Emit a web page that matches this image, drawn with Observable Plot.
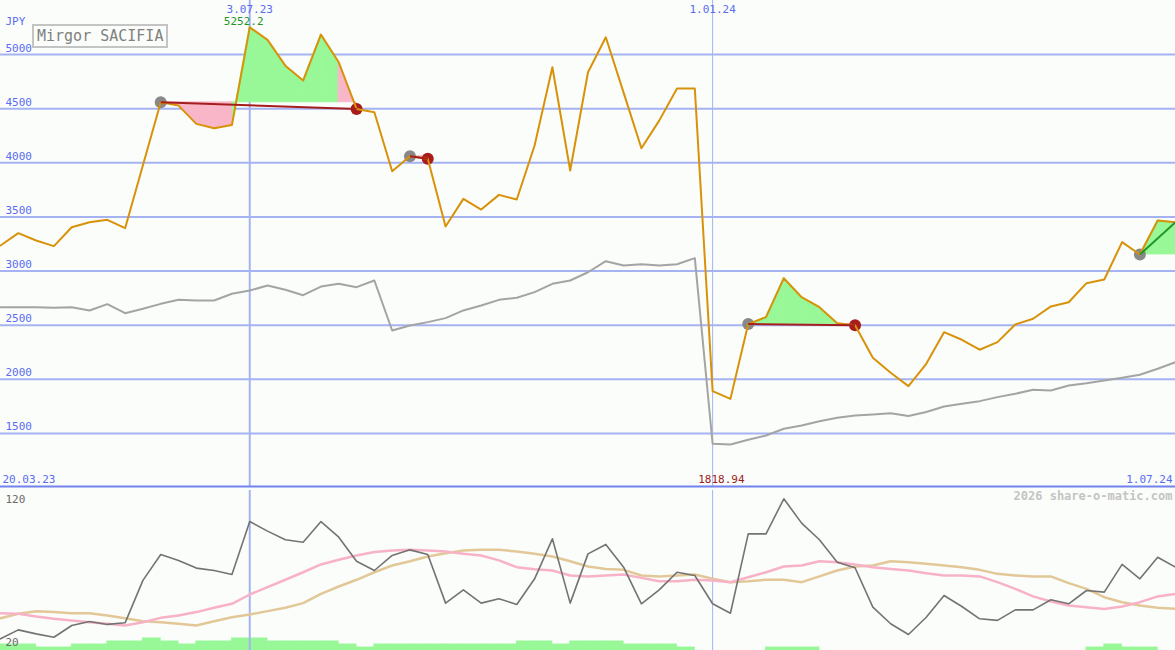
<!DOCTYPE html>
<html><head><meta charset="utf-8">
<script src="https://cdn.jsdelivr.net/npm/d3@7"></script>
<script src="https://cdn.jsdelivr.net/npm/@observablehq/plot@0.6"></script>
<style>
html,body{margin:0;padding:0;background:#fbfdfa;}
#wrap{position:relative;width:1175px;height:650px;overflow:hidden;background:#fbfdfa;}
#wrap svg{position:absolute;left:0;overflow:visible;}
#title{position:absolute;left:32px;top:24px;width:129px;height:20px;border:2px solid #c4c4c4;color:#808080;font:15px "DejaVu Sans Mono",monospace;line-height:20px;padding-left:3px;background:#fbfdfa;white-space:nowrap;}
</style></head><body>
<div id="wrap"><div id="title">Mirgor SACIFIA</div></div>
<script>
// ---- data ----
const weekDates = ["2023-03-27","2023-04-03","2023-04-10","2023-04-17","2023-04-24","2023-05-01","2023-05-08","2023-05-15","2023-05-22","2023-05-29",
"2023-06-05","2023-06-12","2023-06-19","2023-06-26","2023-07-03","2023-07-10","2023-07-17","2023-07-24","2023-07-31","2023-08-07",
"2023-08-14","2023-08-21","2023-08-28","2023-09-04","2023-09-11","2023-09-18","2023-09-25","2023-10-02","2023-10-09","2023-10-16",
"2023-10-23","2023-10-30","2023-11-06","2023-11-13","2023-11-20","2023-11-27","2023-12-04","2023-12-11","2023-12-18","2023-12-25",
"2024-01-01","2024-01-08","2024-01-15","2024-01-22","2024-01-29","2024-02-05","2024-02-12","2024-02-19","2024-02-26","2024-03-04",
"2024-03-11","2024-03-18","2024-03-25","2024-04-01","2024-04-08","2024-04-15","2024-04-22","2024-04-29","2024-05-06","2024-05-13",
"2024-05-20","2024-05-27","2024-06-03","2024-06-10","2024-06-17","2024-06-24","2024-07-01"];
const price = [3236,3350,3282,3230,3405,3451,3473,3396,3978,4559,
4529,4360,4319,4350,5252.2,5136,4898,4760,5185,4929,
4498,4467,3922,4061,4037,3411,3667,3568,3704,3661,
4160,4883,3929,4837,5160,4649,4135,4390,4686,4686,
1890,1818.94,2510,2574,2934,2758,2666,2518,2500,2199,
2060,1937,2143,2435,2365,2273,2343,2506,2559,2673,
2712,2888,2922,3267,3153,3467,3451];
const movingAvg = [2666,2666,2666,2660,2666,2636,2694,2611,2651,2697,
2734,2728,2728,2790,2820,2866,2827,2777,2857,2882,
2851,2913,2451,2497,2528,2565,2636,2682,2734,2753,
2805,2882,2913,2989,3091,3051,3063,3051,3063,3119,
1404,1398,1441,1481,1543,1573,1613,1645,1666,1675,
1687,1660,1697,1749,1774,1798,1835,1866,1903,1897,
1943,1964,1989,2014,2042,2097,2158];
const oscillator = [27.3,32.9,30.4,28.3,35.6,38.1,36.3,37.3,63.8,80,
76.3,71.5,70,67.5,100.6,94.6,89.2,87.7,100.6,90.8,
75.8,70,79.4,82.9,80,49.6,57.9,49.6,52.3,48.8,
64.8,89.8,49.6,80.4,86.3,72.1,49.2,57.9,68.9,66.9,
49.2,43.3,92.9,92.9,114.8,99.6,89.2,75.2,71.7,47.1,
36.7,30,40.8,54.4,47.5,39.8,38.8,45.4,45.4,51.7,
49.2,57.5,56.5,73.8,64.8,78.3,72.1];
const oscAvgFast = [43.3,43,41.3,39.8,38.8,37.7,36.7,35.6,37.7,40.4,
41.9,44,46.7,49.2,55,59.6,64.2,68.9,73.8,76.7,
79.4,81.5,82.5,82.9,82.5,81.9,80.4,79.4,76.3,72.1,
70.8,70,66.9,66.3,66.9,67.5,65.4,63.3,63.3,64.2,
63.8,62.7,65.8,68.9,72.5,73.1,75.8,75.2,73.8,72.1,
71,70,68.3,66.9,66.9,66.3,62.7,58.5,53.8,50.6,
48.1,47.1,46,47.5,50.2,53.8,55.4];
const oscAvgSlow = [40.2,43,44.6,44,43.3,43.3,41.9,40.2,38.3,37.7,
36.7,35.6,38.3,40.8,42.5,44.6,46.7,49.6,55.4,60,
64.2,68.9,73.1,75.8,78.8,80.8,82.5,82.9,82.9,81.9,
80.4,78.8,75.8,72.5,71,70.4,66.9,66.3,66.9,67.5,
64.8,62.7,63.3,64.2,64.2,62.7,66.3,70,72.5,73.1,
75.8,75.2,74.2,73.1,72.1,70.4,67.9,66.9,66.3,66.3,
62.1,58.5,53.3,50.2,48.1,46.7,46];
const volume = [2,2,1,1,2,2,3,3,4,3,
2,3,3,4,4,3,3,3,3,2,
1,2,2,2,2,2,2,2,2,3,
3,2,3,3,3,2,2,2,1,0,
0,0,0,1,1,1,0,0,0,0,
0,0,0,0,0,0,0,0,0,0,
0,1,2,1,1,0];
const buyIdx = [9, 23, 42, 64];
const sellIdx = [20, 24, 48, null];
const priceTicks = [1500,2000,2500,3000,3500,4000,4500,5000];
const topDateLabels = ["3.07.23","1.01.24"];
const topDateValues = ["2023-07-03","2024-01-01"];
const startLabel = "20.03.23";
const endLabel = "1.07.24";
const oscTicks = ["120","20"];
const currency = "JPY";
const watermark = "2026 share-o-matic.com";

// ---- derived tables ----
const dates = weekDates.map(s => new Date(s));
const rows = dates.map((d, i) => ({date: d, price: price[i], ma: movingAvg[i], osc: oscillator[i], f: oscAvgFast[i], s: oscAvgSlow[i]}));
const volRows = volume.map((v, i) => ({d0: dates[i], d1: dates[i + 1], v})).filter(d => d.v > 0);
const fillSegs = [];
const tradeLinks = [];
buyIdx.forEach((b, k) => {
  const e = sellIdx[k] ?? price.length - 1;
  const base = price[b];
  for (let i = b; i < e; i++) {
    const up = price[i + 1] >= base;
    for (const j of [i, i + 1]) fillSegs.push({seg: k + "-" + i, date: dates[j], base, p: price[j], up});
  }
  tradeLinks.push({x1: dates[b], y1: base, x2: dates[e], y2: price[e], win: price[e] >= base});
});
const buys = buyIdx.map(i => ({date: dates[i], p: price[i]}));
const sells = sellIdx.filter(i => i != null).map(i => ({date: dates[i], p: price[i]}));
const iMax = price.indexOf(d3.max(price));
const iMin = price.indexOf(d3.min(price));
const vDates = topDateValues.map(s => new Date(s));

const FONT = '"DejaVu Sans Mono", monospace';
const BLUE = "#5a6cf0";
const GRID = "#a6b3f2";
const GREENFILL = "#98f898";
const PINKFILL = "#f8b6c8";
const xScale = {type: "utc", domain: [new Date("2023-03-27"), new Date("2024-07-01")], axis: null};
const baseStyle = {background: "transparent", fontFamily: FONT, fontSize: "11px", overflow: "visible"};

const upper = Plot.plot({
  width: 1175, height: 487, margin: 0,
  style: baseStyle,
  x: xScale,
  y: {domain: [1000, 5500], axis: null},
  marks: [
    Plot.ruleY(priceTicks, {stroke: GRID, strokeWidth: 2}),
    Plot.ruleX(vDates, {x: d => d, stroke: GRID, strokeWidth: (d, i) => i === 0 ? 2 : 1}),
    Plot.ruleY([1000], {stroke: "#7282ee", strokeWidth: 2, dy: -1}),
    Plot.areaY(fillSegs.filter(d => d.up), {x: "date", y1: "base", y2: "p", z: "seg", fill: GREENFILL, stroke: GREENFILL, strokeWidth: 0.8}),
    Plot.areaY(fillSegs.filter(d => !d.up), {x: "date", y1: "base", y2: "p", z: "seg", fill: PINKFILL, stroke: PINKFILL, strokeWidth: 0.8}),
    Plot.line(rows, {x: "date", y: "ma", stroke: "#a4a4a4", strokeWidth: 2}),
    Plot.dot(buys, {x: "date", y: "p", r: 6, fill: "#888888"}),
    Plot.dot(sells, {x: "date", y: "p", r: 6, fill: "#a81c1c"}),
    Plot.line(rows, {x: "date", y: "price", stroke: "#d8920a", strokeWidth: 2}),
    Plot.link(tradeLinks, {x1: "x1", y1: "y1", x2: "x2", y2: "y2", stroke: d => d.win ? "#23962a" : "#a51e1e", strokeWidth: 2}),
    Plot.text(priceTicks, {y: d => d, text: d => String(d), frameAnchor: "left", textAnchor: "start", lineAnchor: "middle", dx: 5, dy: -6.5, fill: BLUE}),
    Plot.text([currency], {frameAnchor: "top-left", textAnchor: "start", lineAnchor: "middle", dx: 5, dy: 21, fill: BLUE}),
    Plot.text(topDateLabels, {x: (d, i) => vDates[i], text: d => d, frameAnchor: "top", lineAnchor: "middle", dy: 9, fill: BLUE}),
    Plot.text([iMax], {x: i => dates[i], y: i => price[i], text: i => String(price[i]), lineAnchor: "middle", dy: -6, dx: -6, fill: "#23962a"}),
    Plot.text([iMin], {x: i => dates[i], text: i => String(price[i]), frameAnchor: "bottom", lineAnchor: "middle", dy: -8, dx: -9, fill: "#a01c1c"}),
    Plot.text([startLabel], {frameAnchor: "bottom-left", textAnchor: "start", lineAnchor: "middle", dx: 2, dy: -8, fill: BLUE}),
    Plot.text([endLabel], {frameAnchor: "bottom-right", textAnchor: "end", lineAnchor: "middle", dx: -3, dy: -8, fill: BLUE})
  ]
});
upper.style.top = "0px";

const vol = Plot.plot({
  width: 1175, height: 163, margin: 0,
  style: baseStyle,
  x: xScale,
  y: {domain: [0, 54], axis: null},
  marks: [
    Plot.rect(volRows, {x1: "d0", x2: "d1", y1: 0, y2: "v", fill: GREENFILL, stroke: GREENFILL, strokeWidth: 0.8})
  ]
});
vol.style.top = "487px";

const lower = Plot.plot({
  width: 1175, height: 163, marginTop: 3, marginBottom: 0, marginLeft: 0, marginRight: 0,
  style: baseStyle,
  x: xScale,
  y: {domain: [20, 120], axis: null},
  marks: [
    Plot.ruleX(vDates, {x: d => d, stroke: GRID, strokeWidth: (d, i) => i === 0 ? 2 : 1}),
    Plot.line(rows, {x: "date", y: "s", stroke: "#e2c898", strokeWidth: 2.5}),
    Plot.line(rows, {x: "date", y: "f", stroke: "#f8b2c8", strokeWidth: 2.5}),
    Plot.line(rows, {x: "date", y: "osc", stroke: "#737373", strokeWidth: 1.6}),
    Plot.text([oscTicks[0]], {frameAnchor: "top-left", textAnchor: "start", lineAnchor: "middle", dx: 5, dy: 9, fill: "#6a6a6a"}),
    Plot.text([oscTicks[1]], {frameAnchor: "bottom-left", textAnchor: "start", lineAnchor: "middle", dx: 5, dy: -8, fill: "#6a6a6a"}),
    Plot.text([watermark], {frameAnchor: "top-right", textAnchor: "end", lineAnchor: "middle", dx: -3, dy: 6, fill: "#c4c4c4", fontWeight: "bold", fontSize: 12})
  ]
});
lower.style.top = "487px";

const wrap = document.getElementById("wrap");
const title = document.getElementById("title");
wrap.insertBefore(upper, title);
wrap.insertBefore(vol, title);
wrap.insertBefore(lower, title);
</script>
</body></html>
